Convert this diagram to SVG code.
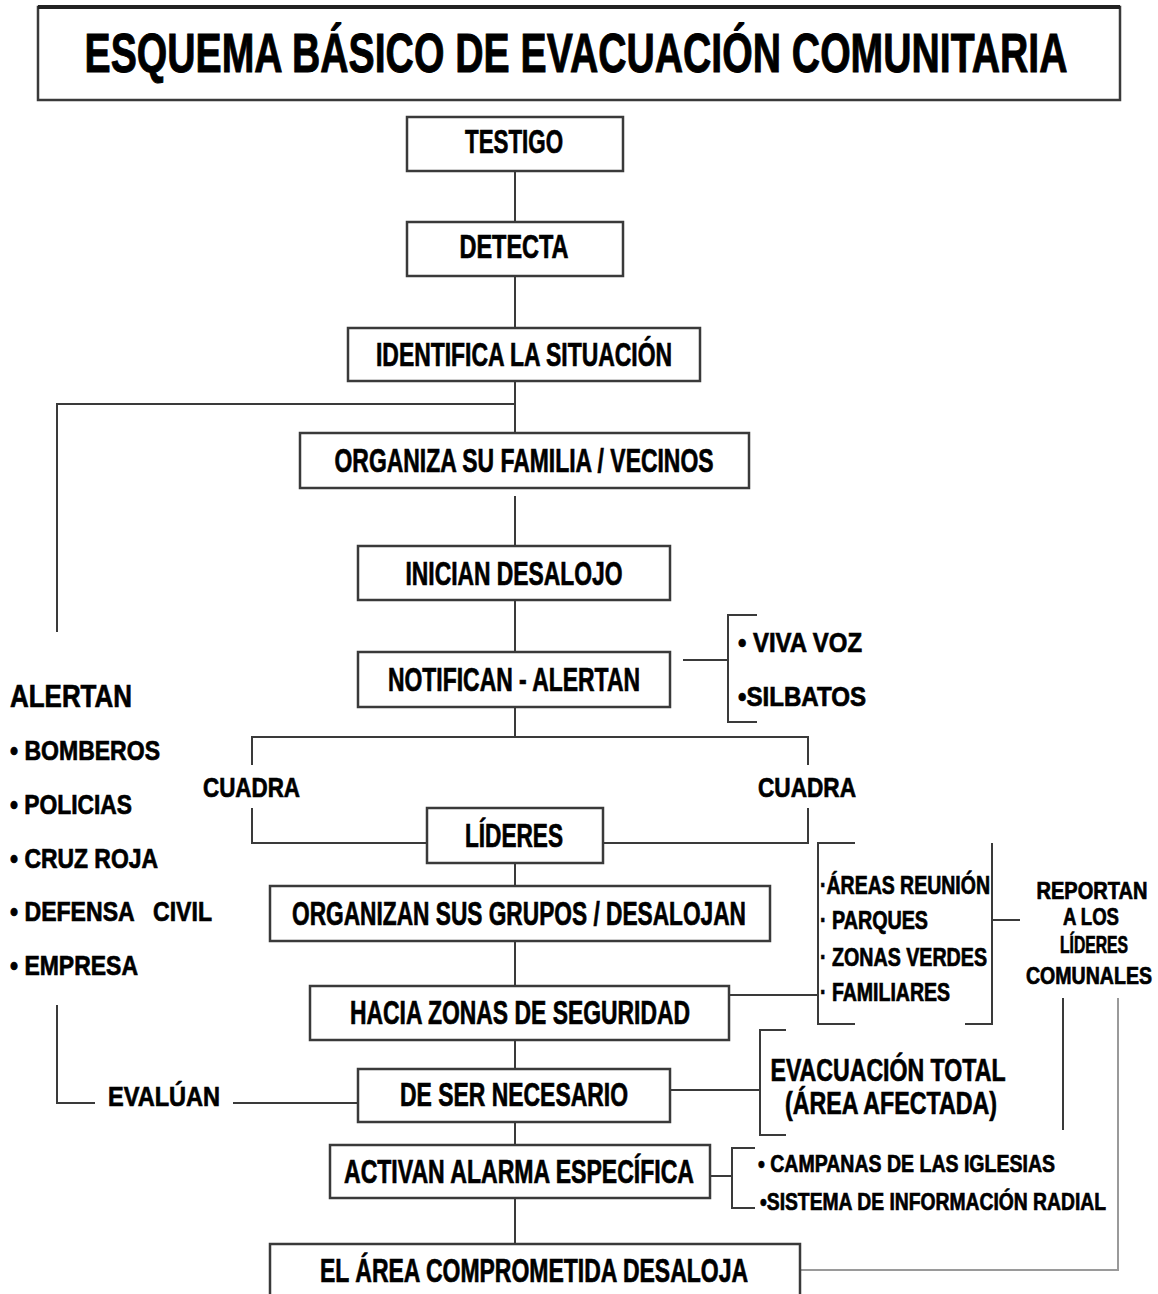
<svg xmlns="http://www.w3.org/2000/svg" width="1158" height="1294" viewBox="0 0 1158 1294">
<style>
.box{fill:#fff;stroke:#3a3a3a;stroke-width:2.5}
.ln{fill:none;stroke:#3a3a3a;stroke-width:2}
.lg{fill:none;stroke:#9a9a9a;stroke-width:2}
text{font-family:"Liberation Sans Narrow","Liberation Sans",Arial,sans-serif;font-weight:bold;fill:#000;stroke:#000;stroke-width:0.7}
.n{font-size:33px;text-anchor:middle}
.s{font-size:32px}
.m{font-size:28px}
.r{font-size:23px;text-anchor:middle}
</style>
<rect width="1158" height="1294" fill="#fff"/>
<g id="title">
<rect x="38" y="7" width="1082" height="93" class="box"/>
<line x1="38" y1="7" x2="1120" y2="7" stroke="#222" stroke-width="4"/>
<text x="576" y="72" style="font-size:56px;text-anchor:middle;stroke-width:1" textLength="983" lengthAdjust="spacingAndGlyphs">ESQUEMA BÁSICO DE EVACUACIÓN COMUNITARIA</text>
</g>
<g id="connectors">
<path class="ln" d="M515 171V222M515 276V328M515 381V433M515 496V546M515 600V652M515 707V737M515 863V886M515 941V986M515 1040V1069M515 1122V1145M515 1198V1244"/>
<path class="ln" d="M515 404H57V632"/>
<path class="ln" d="M683 660H728M757 615H728V722H757"/>
<path class="ln" d="M252 765V737H808V765M252 808V843H427M603 843H808V808"/>
<path class="ln" d="M729 995H818M855 843H818V1024H855M965 1024H992V843M993 920H1020"/>
<path class="ln" d="M1063 998V1130"/>
<path class="lg" d="M1118 998V1270H800"/>
<path class="ln" d="M670 1090H760M786 1030H760V1135H786"/>
<path class="ln" d="M710 1176H732M755 1148H732V1208H755"/>
<path class="ln" d="M57 1005V1103H95M233 1103H358"/>
</g>
<g id="testigo"><rect x="407" y="117" width="216" height="54" class="box"/><text x="514" y="153" class="n" textLength="98" lengthAdjust="spacingAndGlyphs">TESTIGO</text></g>
<g id="detecta"><rect x="407" y="222" width="216" height="54" class="box"/><text x="514" y="258" class="n" textLength="109" lengthAdjust="spacingAndGlyphs">DETECTA</text></g>
<g id="identifica"><rect x="348" y="328" width="352" height="53" class="box"/><text x="524" y="366" class="n" textLength="296" lengthAdjust="spacingAndGlyphs">IDENTIFICA LA SITUACIÓN</text></g>
<g id="organiza"><rect x="300" y="433" width="449" height="55" class="box"/><text x="524" y="472" class="n" textLength="379" lengthAdjust="spacingAndGlyphs">ORGANIZA SU FAMILIA / VECINOS</text></g>
<g id="inician"><rect x="358" y="546" width="312" height="54" class="box"/><text x="514" y="585" class="n" textLength="217" lengthAdjust="spacingAndGlyphs">INICIAN DESALOJO</text></g>
<g id="notifican"><rect x="358" y="652" width="312" height="55" class="box"/><text x="514" y="691" class="n" textLength="252" lengthAdjust="spacingAndGlyphs">NOTIFICAN - ALERTAN</text></g>
<g id="lideres"><rect x="427" y="808" width="176" height="55" class="box"/><text x="514" y="847" class="n" textLength="98" lengthAdjust="spacingAndGlyphs">LÍDERES</text></g>
<g id="organizan"><rect x="270" y="886" width="500" height="55" class="box"/><text x="519" y="925" class="n" textLength="454" lengthAdjust="spacingAndGlyphs">ORGANIZAN SUS GRUPOS / DESALOJAN</text></g>
<g id="hacia"><rect x="310" y="986" width="419" height="54" class="box"/><text x="520" y="1024" class="n" textLength="340" lengthAdjust="spacingAndGlyphs">HACIA ZONAS DE SEGURIDAD</text></g>
<g id="deser"><rect x="358" y="1069" width="312" height="53" class="box"/><text x="514" y="1106" class="n" textLength="228" lengthAdjust="spacingAndGlyphs">DE SER NECESARIO</text></g>
<g id="activan"><rect x="330" y="1145" width="380" height="53" class="box"/><text x="519" y="1183" class="n" textLength="350" lengthAdjust="spacingAndGlyphs">ACTIVAN ALARMA ESPECÍFICA</text></g>
<g id="elarea"><rect x="270" y="1244" width="530" height="56" class="box"/><text x="534" y="1282" class="n" textLength="428" lengthAdjust="spacingAndGlyphs">EL ÁREA COMPROMETIDA DESALOJA</text></g>
<g id="alertan">
<text x="10" y="707" class="s" textLength="122" lengthAdjust="spacingAndGlyphs">ALERTAN</text>
<text x="10" y="760" class="m" textLength="150" lengthAdjust="spacingAndGlyphs">• BOMBEROS</text>
<text x="10" y="814" class="m" textLength="122" lengthAdjust="spacingAndGlyphs">• POLICIAS</text>
<text x="10" y="868" class="m" textLength="148" lengthAdjust="spacingAndGlyphs">• CRUZ ROJA</text>
<text x="10" y="921" class="m" textLength="202" lengthAdjust="spacingAndGlyphs" xml:space="preserve">• DEFENSA   CIVIL</text>
<text x="10" y="975" class="m" textLength="128" lengthAdjust="spacingAndGlyphs">• EMPRESA</text>
</g>
<g id="cuadra-left"><text x="203" y="797" class="m" textLength="97" lengthAdjust="spacingAndGlyphs">CUADRA</text></g>
<g id="cuadra-right"><text x="758" y="797" class="m" textLength="98" lengthAdjust="spacingAndGlyphs">CUADRA</text></g>
<g id="medios">
<text x="738" y="652" class="m" textLength="124" lengthAdjust="spacingAndGlyphs">• VIVA VOZ</text>
<text x="738" y="706" class="m" textLength="128" lengthAdjust="spacingAndGlyphs">•SILBATOS</text>
</g>
<g id="areas">
<text x="820" y="894" style="font-size:25px" textLength="170" lengthAdjust="spacingAndGlyphs">·ÁREAS REUNIÓN</text>
<text x="820" y="929" style="font-size:25px" textLength="108" lengthAdjust="spacingAndGlyphs">· PARQUES</text>
<text x="820" y="966" style="font-size:25px" textLength="167" lengthAdjust="spacingAndGlyphs">· ZONAS VERDES</text>
<text x="820" y="1001" style="font-size:25px" textLength="130" lengthAdjust="spacingAndGlyphs">· FAMILIARES</text>
</g>
<g id="reportan">
<text x="1092" y="899" class="r" textLength="111" lengthAdjust="spacingAndGlyphs">REPORTAN</text>
<text x="1091" y="925" class="r" textLength="56" lengthAdjust="spacingAndGlyphs">A LOS</text>
<text x="1094" y="953" class="r" textLength="68" lengthAdjust="spacingAndGlyphs">LÍDERES</text>
<text x="1089" y="984" class="r" textLength="126" lengthAdjust="spacingAndGlyphs">COMUNALES</text>
</g>
<g id="evacuacion">
<text x="888" y="1081" class="s" style="text-anchor:middle" textLength="235" lengthAdjust="spacingAndGlyphs">EVACUACIÓN TOTAL</text>
<text x="891" y="1114" class="s" style="text-anchor:middle" textLength="212" lengthAdjust="spacingAndGlyphs">(ÁREA AFECTADA)</text>
</g>
<g id="evaluan"><text x="108" y="1106" class="m" textLength="112" lengthAdjust="spacingAndGlyphs">EVALÚAN</text></g>
<g id="alarmas">
<text x="758" y="1172" style="font-size:24px" textLength="297" lengthAdjust="spacingAndGlyphs">• CAMPANAS DE LAS IGLESIAS</text>
<text x="760" y="1210" style="font-size:24px" textLength="346" lengthAdjust="spacingAndGlyphs">•SISTEMA DE INFORMACIÓN RADIAL</text>
</g>
</svg>
